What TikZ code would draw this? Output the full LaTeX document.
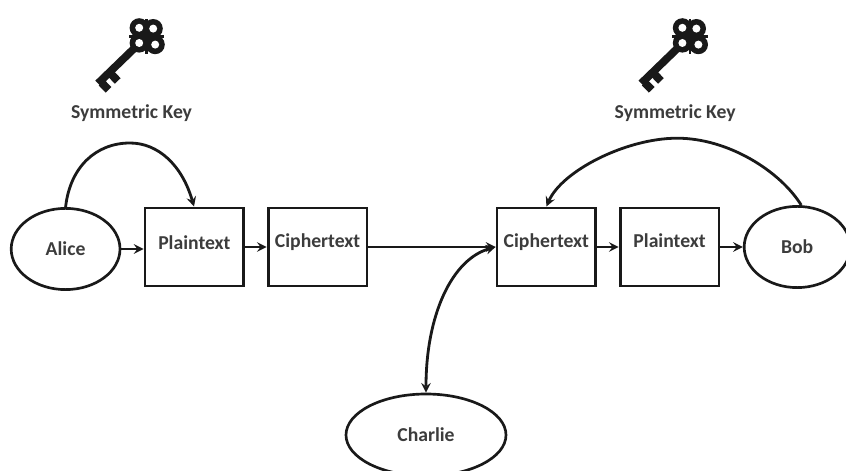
\documentclass[tikz,border=0pt]{standalone}
\usepackage{fontspec}
\setmainfont{Carlito}
\usepackage{tikz}
\usetikzlibrary{
	arrows,
	shapes.geometric
}
\tikzstyle{every picture}+=[>=stealth]
\definecolor{ink}{rgb}{0.1, 0.1, 0.1}
\tikzset{
	party/.style={draw=ink, line width=1.9pt, ellipse, inner sep=0pt, font=\bfseries\fontsize{14}{16}\selectfont, text=ink!85},
	textbox/.style={draw=ink, line width=2.1pt, rectangle, minimum width=2.47cm, minimum height=1.95cm, inner sep=0pt, font=\bfseries\fontsize{14}{16}\selectfont, text=ink!85},
	keylabel/.style={font=\bfseries\fontsize{14}{16}\selectfont, text=ink!85},
	link/.style={draw=ink, line width=2pt}
}

\begin{document}
\begin{tikzpicture}
	\path[use as bounding box, clip] (0,0) rectangle (21.15,11.775);

	% Keys
		% Draws a key with the centre of its head at the specified coordinate
		\newcommand\drawkey[1] {
			\begin{scope}[shift={(#1)}, ink]
				\draw[line width=5.5pt] (0,0) -- (-1.22,-1.18);
				\fill[rotate=44] (-1.4,-0.05) rectangle (-1.2,-0.3);
				\fill[rotate=44] (-1.72,-0.05) rectangle (-1.52,-0.3);
				\draw[line width=2pt] (0,-0.44) -- (0,0.44) (-0.44,0) -- (0.44,0);
				\foreach \x/\y in {-0.19/0.21, 0.16/0.19, -0.19/-0.17, 0.21/-0.21} {
					\fill (\x,\y) circle (0.24);
				}
				\foreach \x/\y in {-0.19/0.21, 0.16/0.19, -0.19/-0.17, 0.21/-0.21} {
					\fill[white] (\x,\y) circle (0.1);
				}
			\end{scope}
		}
		\drawkey{3.67,10.87}
		\drawkey{17.25,10.87}
		\node[keylabel] (keyleft) at (3.29,8.95) {Symmetric Key};
		\node[keylabel] (keyright) at (16.88,8.95) {Symmetric Key};

	% Parties
		\node[party, minimum width=2.72cm, minimum height=2.03cm] (alice) at (1.64,5.55) {Alice};
		\node[party, minimum width=2.65cm, minimum height=2.03cm] (bob) at (19.93,5.6) {Bob};
		\node[party, minimum width=4cm, minimum height=2.05cm] (charlie) at (10.65,0.9) {Charlie};

	% Boxes
		\node[textbox] (plainleft) at (4.86,5.6) {\raisebox{6pt}{Plaintext}};
		\node[textbox] (cipherleft) at (7.94,5.6) {\raisebox{8.5pt}{Ciphertext}};
		\node[textbox] (cipherright) at (13.66,5.6) {\raisebox{8.5pt}{Ciphertext}};
		\node[textbox] (plainright) at (16.74,5.6) {\raisebox{8.5pt}{Plaintext}};

	% Connectors
		\draw[link,->] (alice.east) -- (plainleft.west |- alice.east);
		\draw[link,->] (plainleft.east) -- (cipherleft.west);
		\draw[link,->] (cipherleft.east) -- (cipherright.west);
		\draw[link,->] (cipherright.east) -- (plainright.west);
		\draw[link,->] (plainright.east) -- (bob.west);
		\draw[link,->] (alice.north) .. controls (1.75,7.6) and (2.4,8.2) .. (3.25,8.2) .. controls (3.95,8.2) and (4.55,7.65) .. ([xshift=-0.01cm]plainleft.north);
		\draw[link,->] (bob.north) ++(0.1,0) .. controls (19.5,7.5) and (18.2,8.32) .. (16.93,8.32) .. controls (15.65,8.32) and (14.05,7.5) .. (cipherright.north);
		\draw[link,<->] (cipherright.west) .. controls (11.3,5.3) and (10.65,3.9) .. (charlie.north);
\end{tikzpicture}
\end{document}
